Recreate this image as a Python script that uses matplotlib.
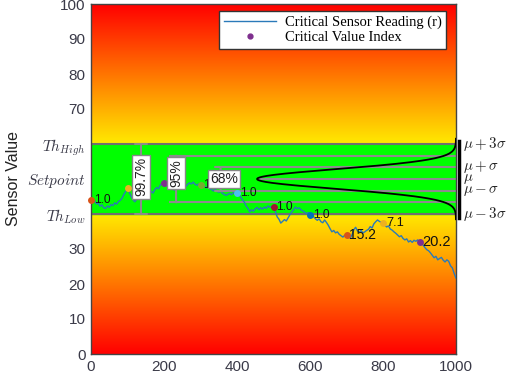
import numpy as np
import matplotlib.pyplot as plt
from matplotlib.lines import Line2D

plt.rcParams['mathtext.fontset'] = 'cm'

reading_x = np.arange(0, 1001, 5)
reading = [
    44.0, 43.2, 43.8, 42.9, 43.1, 42.2, 42.6, 41.8, 41.6, 42.3, 41.9, 42.7, 42.4, 43.2, 42.8, 43.6, 43.9, 44.5, 45.6, 46.4,
    47.4, 46.2, 45.0, 44.1, 43.5, 44.2, 44.7, 45.6, 45.0, 45.3, 44.6, 45.4, 45.9, 46.4, 46.0, 47.0, 47.6, 47.2, 48.3, 48.7,
    49.0, 48.4, 47.8, 48.1, 47.3, 47.0, 46.8, 47.4, 47.7, 47.2, 48.0, 48.4, 47.9, 48.5, 48.9, 48.6, 49.1, 48.5, 48.2, 48.6,
    48.3, 47.8, 48.2, 47.5, 47.7, 47.2, 47.0, 46.6, 47.1, 46.5, 46.2, 46.6, 45.9, 45.6, 45.3, 45.6, 45.9, 45.5, 46.1, 45.8,
    46.0, 45.4, 44.9, 44.0, 43.4, 42.3, 41.6, 40.6, 41.2, 40.8, 41.5, 41.9, 41.2, 41.8, 41.4, 42.0, 41.6, 42.3, 41.9, 42.2,
    42.0, 40.8, 39.2, 38.5, 37.4, 37.9, 38.4, 38.0, 38.9, 39.8, 40.6, 41.2, 42.0, 41.5, 41.8, 41.2, 40.9, 40.5, 40.1, 40.4,
    39.6, 39.9, 39.2, 38.6, 38.2, 38.6, 37.8, 37.5, 38.3, 37.6, 36.8, 35.8, 34.9, 35.3, 34.6, 34.9, 34.2, 33.8, 33.4, 33.9,
    34.0, 33.6, 33.1, 34.0, 35.5, 36.2, 35.2, 34.8, 35.3, 34.6, 34.9, 35.3, 35.6, 36.4, 36.0, 37.2, 37.8, 38.3, 37.9, 37.6,
    37.4, 36.8, 36.3, 36.6, 35.7, 35.4, 34.9, 34.5, 34.0, 33.5, 33.8, 33.0, 32.6, 32.9, 32.0, 32.4, 31.9, 32.5, 32.2, 32.6,
    32.0, 31.6, 31.1, 30.4, 29.8, 29.5, 28.9, 28.2, 27.5, 27.9, 26.9, 27.3, 27.6, 26.8, 26.3, 26.9, 26.5, 25.2, 24.6, 23.0,
    21.7,
]

# critical value index points
crit_x = [0, 100, 200, 300, 400, 500, 600, 700, 800, 900]
crit_labels = ['1.0', '1.0', '1.0', '1.0', '1.0', '1.0', '1.0', '15.2', '7.1', '20.2']

th_low, setpoint, th_high = 40, 50, 60
sigma = (th_high - setpoint) / 3.0

ytick_vals = [0, 10, 20, 30, 40, 50, 60, 70, 80, 90, 100]
ytick_labels = ['0', '10', '20', '30', r'$Th_{Low}$', r'$Setpoint$', r'$Th_{High}$', '70', '80', '90', '100']
xtick_vals = [0, 200, 400, 600, 800, 1000]

matlab_colors = [(0.850, 0.325, 0.098), (0.929, 0.694, 0.125), (0.494, 0.184, 0.556),
                 (0.466, 0.674, 0.188), (0.301, 0.745, 0.933), (0.635, 0.078, 0.184),
                 (0.000, 0.447, 0.741)]

fig = plt.figure(figsize=(5.09, 3.82), dpi=100)
ax = fig.add_axes([91 / 509, 28 / 382, 365 / 509, 350 / 382])

# red -> yellow background on both sides of the green band
yy = np.linspace(0, 100, 801)
g = np.clip(np.where(yy < 50, yy / 40.0, (100 - yy) / 40.0), 0, 1) * 0.92
rgb = np.stack([np.ones_like(yy), g, np.zeros_like(yy)], axis=1)
ax.imshow(rgb[:, None, :], extent=[0, 1000, 0, 100], origin='lower', aspect='auto', zorder=0)

ax.axhspan(th_low, th_high, color='#00ff00', zorder=1)

gray = '#8c8c8c'
ax.axhline(th_high, color='#707070', lw=1.5, zorder=2)
ax.axhline(th_low, color='#707070', lw=1.5, zorder=2)
ax.hlines([setpoint + 2 * sigma, setpoint - 2 * sigma], 215, 1000, color=gray, lw=1.5, zorder=2)
ax.hlines([setpoint + sigma, setpoint - sigma], 340, 1000, color=gray, lw=1.5, zorder=2)
ax.hlines([setpoint], 455, 1000, color=gray, lw=1.5, zorder=2)

# sideways normal curve
ys = np.linspace(th_low - 1.5, th_high + 1.5, 400)
xs = 1000 - 545 * np.exp(-(ys - setpoint) ** 2 / (2 * 2.8 ** 2))
ax.plot(xs, ys, color='black', lw=1.3, zorder=3)

# confidence brackets
for bx, k, txt, rot, ty in [(137, 3, '99.7%', 90, 50.6), (233, 2, '95%', 90, 51.7), (355, 1, '68%', 0, 50.0)]:
    ax.annotate('', xy=(bx, setpoint + k * sigma), xytext=(bx, setpoint - k * sigma),
                arrowprops=dict(arrowstyle='|-|', color=gray, lw=1.5, shrinkA=0, shrinkB=0,
                                mutation_scale=4), zorder=6)
    tx = bx + 10 if rot == 0 else bx
    ax.text(tx, ty, txt, rotation=rot, ha='center', va='center', fontsize=10,
            family='Liberation Sans', color='#222222', zorder=7,
            bbox=dict(boxstyle='square,pad=0.15', fc='white', ec='#888888', lw=1))

# reading line
ax.plot(reading_x, reading, color='#2a7ab9', lw=1, zorder=4)

# critical points and labels
for i, (cx, lab) in enumerate(zip(crit_x, crit_labels)):
    cy = reading[cx // 5]
    ax.plot(cx, cy, 'o', color=matlab_colors[i % 7], ms=5, mec='none', zorder=5, clip_on=False)
    val = float(lab)
    ax.text(cx + 8, cy, lab, fontsize=8.5 + 0.1 * val, family='Liberation Sans',
            ha='left', va='center', color='#111111', zorder=5)

ax.set_xlim(0, 1000)
ax.set_ylim(0, 100)
ax.set_xticks(xtick_vals)
ax.set_yticks(ytick_vals)
ax.set_yticklabels(ytick_labels)
for t in ax.get_xticklabels() + ax.get_yticklabels():
    t.set_color('#3a3a48')
    if not t.get_text().startswith('$'):
        t.set_family('Liberation Sans')
ax.tick_params(length=0, labelsize=11, pad=4)
ax.set_ylabel('Sensor Value', family='Liberation Sans', fontsize=11.5, color='#222222', labelpad=4)
for s in ax.spines.values():
    s.set_color('#444444')
    s.set_linewidth(1)

# right side sigma scale
ax.plot([1009, 1009], [th_low - 1.2, th_high + 1], color='black', lw=2.5, clip_on=False, zorder=8)
for k, lab in [(3, r'$\mu + 3\sigma$'), (1, r'$\mu + \sigma$'), (0, r'$\mu$'), (-1, r'$\mu - \sigma$'), (-3, r'$\mu - 3\sigma$')]:
    ax.text(1018, setpoint + k * sigma, lab, fontsize=10.8, ha='left', va='center',
            color='#222222', clip_on=False)

handles = [Line2D([], [], color='#2a7ab9', lw=1),
           Line2D([], [], ls='none', marker='o', color=matlab_colors[2], ms=3.5)]
leg = ax.legend(handles, ['Critical Sensor Reading (r)', 'Critical Value Index'],
                loc='upper right', bbox_to_anchor=(0.973, 0.98), borderaxespad=0,
                prop={'family': 'Liberation Serif', 'size': 10.5},
                fancybox=False, framealpha=1, edgecolor='#333333', handlelength=3.6,
                borderpad=0.3, labelspacing=0.15, handletextpad=0.6)
leg.get_frame().set_linewidth(1)
leg.set_zorder(10)

fig.savefig('out.png', dpi=100)
